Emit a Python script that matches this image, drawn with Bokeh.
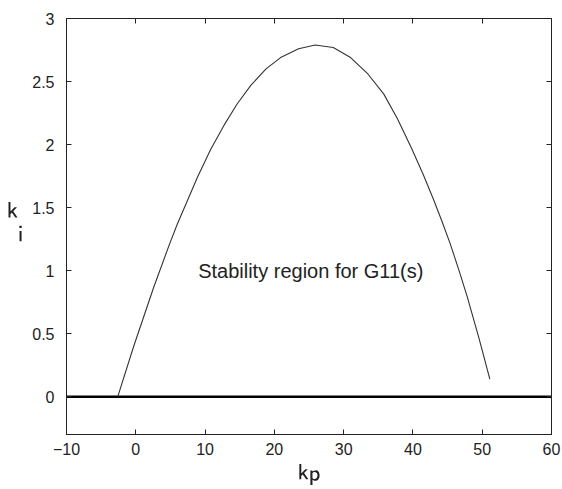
from bokeh.plotting import figure
from bokeh.models import LinearAxis, FixedTicker, Label, Range1d
from bokeh.embed import file_html
from bokeh.resources import INLINE

# ---- data ----
kp = [-2.6, -0.3, 2.6, 4.8, 6.0, 8.9, 10.8, 12.7, 14.6, 16.6, 18.8, 20.9,
      23.5, 25.9, 28.5, 31.0, 33.5, 35.8, 37.8, 39.8, 41.5, 43.0, 44.2, 45.4,
      46.6, 47.8, 49.5, 51.1]
ki = [0.00, 0.40, 0.87, 1.20, 1.37, 1.74, 1.96, 2.15, 2.32, 2.47, 2.60, 2.69,
      2.76, 2.79, 2.77, 2.69, 2.56, 2.40, 2.20, 1.97, 1.76, 1.56, 1.39, 1.21,
      1.01, 0.80, 0.47, 0.14]
zero_kp = [-10, 60]
zero_ki = [0, 0]

x_ticks = [-10, 0, 10, 20, 30, 40, 50, 60]
x_tick_labels = ["\u221210", "0", "10", "20", "30", "40", "50", "60"]
y_ticks = [0, 0.5, 1, 1.5, 2, 2.5, 3]
y_tick_labels = ["0", "0.5", "1", "1.5", "2", "2.5", "3"]

annotation_text = "Stability region for G11(s)"
x_label = r"$$\mathsf{k}\lower{0.06em}{\mathsf{p}}$$"
y_label = (r"$$\mathsf{k}\lower{1.05em}{\mathsf{i}}"
           r"\vphantom{\lower{1.5em}{\mathsf{x}}}$$")

FONT = "Liberation Sans"
TXT = "#222222"

p = figure(width=562, height=489,
           x_range=Range1d(-10, 60), y_range=Range1d(-0.3, 3),
           output_backend="svg", toolbar_location=None,
           min_border_left=66, min_border_right=11,
           min_border_top=18, min_border_bottom=55,
           x_axis_location=None, y_axis_location=None)
p.xgrid.visible = False
p.ygrid.visible = False
p.outline_line_color = "#222222"
p.outline_line_width = 1
p.background_fill_color = "white"
p.border_fill_color = "white"


def style_axis(ax, ticks, labels, show_labels, standoff):
    ax.ticker = FixedTicker(ticks=ticks)
    if show_labels:
        ax.major_label_overrides = {t: l for t, l in zip(ticks, labels)}
        ax.major_label_text_font_size = "16px"
    else:
        ax.major_label_overrides = {t: "" for t in ticks}
        ax.major_label_text_font_size = "1px"
    ax.minor_tick_line_color = None
    ax.major_tick_in = 5
    ax.major_tick_out = 0
    ax.major_tick_line_color = "#222222"
    ax.axis_line_color = "#222222"
    ax.major_label_text_font = FONT
    ax.major_label_text_color = TXT
    ax.major_label_standoff = standoff


xb = LinearAxis(axis_label=x_label)
style_axis(xb, x_ticks, x_tick_labels, True, 8)
xb.axis_label_text_font_size = "18px"
xb.axis_label_text_color = TXT
xb.axis_label_standoff = 6
p.add_layout(xb, "below")

yl = LinearAxis(axis_label=y_label)
style_axis(yl, y_ticks, y_tick_labels, True, 12)
yl.axis_label_text_font_size = "18px"
yl.axis_label_text_color = TXT
yl.axis_label_orientation = "horizontal"
yl.axis_label_standoff = 6
p.add_layout(yl, "left")

xt = LinearAxis()
style_axis(xt, x_ticks, x_tick_labels, False, 0)
p.add_layout(xt, "above")
yr = LinearAxis()
style_axis(yr, y_ticks, y_tick_labels, False, 0)
p.add_layout(yr, "right")

# data
p.line(zero_kp, zero_ki, line_color="black", line_width=2.4)
p.line(kp, ki, line_color="#333333", line_width=1.1)

p.add_layout(Label(x=9, y=1.0, text=annotation_text, text_baseline="middle",
                   text_align="left", text_font=FONT, text_font_size="20px",
                   text_color=TXT))

open("out.html", "w").write(file_html(p, INLINE))
